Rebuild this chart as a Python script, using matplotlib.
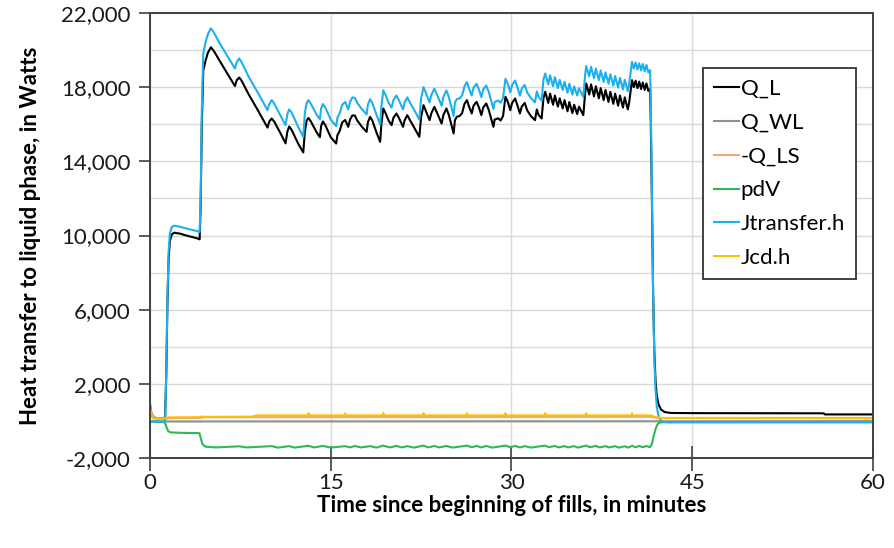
import matplotlib
matplotlib.use("Agg")
import matplotlib.pyplot as plt
from matplotlib.ticker import FuncFormatter, MultipleLocator

plt.rcParams['font.family'] = ['Lato', 'DejaVu Sans']

# time axis (minutes) shared by Q_L and Jtransfer.h
t_fill = [0.0, 0.1, 0.3, 0.6, 1.0, 1.25, 1.35, 1.45, 1.55, 1.65, 1.8, 2.0, 2.5, 3.0, 3.5, 4.0, 4.12,
          4.2, 4.3, 4.42, 4.6, 4.8, 5.05, 5.3, 5.8, 6.4, 7.05, 7.2, 7.4, 7.6, 8.2, 9.0, 9.75,
          9.9, 10.1, 10.3, 10.8, 11.25, 11.4, 11.55, 11.75, 12.3, 12.72,
          12.85, 13.0, 13.15, 13.35, 13.8, 14.1, 14.2, 14.35, 14.55, 15.0, 15.45,
          15.55, 15.75, 15.95, 16.2, 16.35, 16.45, 16.6, 16.8, 17.0, 17.2, 17.6, 17.98, 18.08, 18.26, 18.45, 18.8, 19.1,
          19.2, 19.36, 19.55, 19.8, 20.05, 20.2, 20.45, 20.65, 21.0, 21.12, 21.35, 21.55, 21.9, 22.35,
          22.5, 22.7, 22.9, 23.2, 23.35, 23.6, 23.8, 24.2, 24.35, 24.6, 24.8, 25.2,
          25.3, 25.45, 25.7, 25.9, 26.1, 26.3, 26.45, 26.7, 26.85, 27.1, 27.3, 27.5, 27.65, 27.9, 28.1, 28.5,
          28.6, 28.9, 29.1, 29.3, 29.5, 29.7, 29.9, 30.05, 30.3, 30.5, 30.7, 30.85, 31.1, 31.3, 31.6, 31.95, 32.1, 32.25, 32.5,
          32.65, 32.8, 33.05, 33.2, 33.45, 33.6, 33.85, 34.0, 34.25, 34.4, 34.65, 34.8, 35.05, 35.2, 35.45, 35.6, 35.96,
          36.1, 36.2, 36.45, 36.6, 36.85, 37.0, 37.25, 37.4, 37.65, 37.8, 38.05, 38.2, 38.45, 38.6, 38.85, 39.0, 39.25, 39.4, 39.65, 39.75, 39.85,
          40.0, 40.15, 40.3, 40.45, 40.6, 40.75, 40.9, 41.05, 41.2, 41.35, 41.5,
          41.55, 41.65, 41.75, 41.85, 41.95, 42.05, 42.2, 42.4, 42.7, 43.2, 45.0, 50.0, 55.9, 56.0, 60.0]

q_l = [900, 450, 180, 150, 150, 180, 2500, 6500, 8800, 9700, 10050, 10150, 10100, 10000, 9920, 9830, 9790,
       11500, 16000, 18900, 19400, 19850, 20150, 19950, 19400, 18750, 18060, 18380, 18520, 18350, 17600, 16700, 15820,
       16150, 16310, 16150, 15550, 14970, 15600, 15880, 15700, 14950, 14480,
       15600, 16200, 16340, 16150, 15600, 15300, 15900, 16150, 15950, 15300, 14960,
       15400, 15650, 16100, 16230, 16000, 15860, 16250, 16480, 16470, 16200, 15850, 15590, 16100, 16400, 16200, 15550, 15050,
       16000, 16850, 16600, 16200, 15950, 16350, 16580, 16350, 15860, 16200, 16490, 16250, 15850, 15320,
       16400, 17030, 16700, 16220, 16600, 16940, 16650, 16040, 16500, 16850, 16500, 15500,
       16200, 16400, 16450, 16600, 17100, 17300, 17000, 16580, 17000, 17210, 16900, 16490, 16900, 17120, 16800, 15860,
       16250, 16320, 16200, 16450, 17480, 17200, 16760, 17150, 17390, 17000, 16580, 16950, 17150, 16750, 16450, 16220, 16800, 16500, 16310,
       17400, 17750, 17150, 17650, 17050, 17550, 16950, 17400, 16850, 17300, 16700, 17200, 16600, 17050, 16550, 16950, 16490,
       17600, 18200, 17600, 18150, 17500, 18050, 17400, 17950, 17300, 17850, 17200, 17750, 17100, 17650, 17000, 17550, 16900, 17450, 16800, 17100, 17600,
       18380, 18000, 18350, 17950, 18300, 17900, 18250, 17850, 18200, 17800, 17900,
       16500, 12000, 7000, 3800, 2200, 1400, 900, 620, 480, 430, 420, 415, 410, 350, 350]

j_transfer = [-40, -40, -40, -40, -40, -30, 2600, 6800, 9200, 10100, 10450, 10530, 10470, 10380, 10300, 10220, 10190,
              12000, 16800, 19800, 20400, 20850, 21170, 20950, 20350, 19700, 19010, 19350, 19550, 19350, 18550, 17650, 16760,
              17100, 17300, 17120, 16500, 15950, 16550, 16800, 16640, 15850, 15320,
              16600, 17150, 17300, 17100, 16550, 16260, 16850, 17090, 16900, 16250, 15900,
              16350, 16600, 17050, 17200, 16950, 16800, 17200, 17450, 17420, 17150, 16800, 16530, 17050, 17350, 17150, 16500, 16000,
              16950, 17830, 17570, 17150, 16900, 17300, 17550, 17300, 16800, 17150, 17450, 17200, 16800, 16250,
              17400, 18000, 17680, 17180, 17580, 17920, 17620, 17000, 17480, 17820, 17470, 16450,
              17150, 17350, 17400, 17550, 18050, 18270, 17970, 17550, 17970, 18180, 17870, 17460, 17870, 18090, 17770, 16820,
              17200, 17280, 17160, 17420, 18450, 18170, 17720, 18120, 18360, 17970, 17540, 17920, 18120, 17720, 17420, 17180, 17770, 17470, 17270,
              18400, 18740, 18150, 18640, 18050, 18540, 17950, 18390, 17850, 18290, 17700, 18190, 17600, 18040, 17550, 17940, 17480,
              18600, 19140, 18580, 19100, 18480, 19000, 18380, 18900, 18280, 18800, 18180, 18700, 18080, 18600, 17980, 18500, 17880, 18400, 17780, 18110, 18600,
              19370, 19000, 19330, 18950, 19290, 18900, 19250, 18850, 19200, 18800, 18920,
              17500, 12500, 7000, 3500, 1700, 800, 250, 0, -60, -70, -70, -70, -70, -70, -70]

# wall-to-liquid heat
qwl_t = [0.0, 1.3, 42.0, 60.0]
qwl_v = [-20, -30, -20, -10]

# liquid-to-solid heat (sign flipped)
qls_t = [0.0, 0.3, 1.3, 1.6, 4.2, 4.5, 41.5, 42.0, 42.5, 60.0]
qls_v = [300, 120, 110, 150, 160, 200, 220, 180, 150, 140]

# pdV work
pdv_t = [0.0, 1.2, 1.35, 1.5, 1.7, 2.5, 4.1, 4.2, 4.35, 4.6, 5.5, 7.4, 8.0, 10.1, 10.6, 11.55, 12.0,
         13.15, 13.6, 14.35, 15.0, 16.2, 16.6, 17.0, 17.5, 18.26, 18.8, 19.36, 19.9, 20.45, 20.9,
         21.35, 21.9, 22.7, 23.1, 23.6, 24.0, 24.6, 25.1, 26.3, 26.7, 27.1, 27.5, 27.9, 28.4,
         29.5, 29.9, 30.3, 30.7, 31.1, 31.6, 32.8, 33.1, 33.6, 33.9, 34.4, 34.7, 35.2, 35.5,
         36.2, 36.5, 37.0, 37.3, 37.8, 38.1, 38.6, 38.9, 39.4, 39.7, 40.0, 40.3, 40.6, 40.9,
         41.2, 41.5, 41.65, 41.8, 42.0, 42.15, 42.35, 42.7, 60.0]
pdv_v = [-30, -60, -300, -540, -620, -640, -660, -900, -1250, -1390, -1430, -1370, -1430, -1360, -1440, -1360, -1440,
         -1340, -1430, -1350, -1440, -1360, -1430, -1350, -1430, -1360, -1440, -1330, -1430, -1350, -1430,
         -1360, -1440, -1330, -1430, -1350, -1430, -1350, -1440, -1330, -1420, -1350, -1430, -1350, -1440,
         -1330, -1420, -1350, -1430, -1360, -1440, -1330, -1420, -1350, -1430, -1360, -1430, -1360, -1440,
         -1330, -1420, -1350, -1430, -1360, -1430, -1360, -1440, -1370, -1440, -1340, -1420, -1350, -1420,
         -1350, -1420, -1250, -800, -350, -150, -80, -70, -70]

# enthalpy carried by condensation, short spikes at each fill
jcd_t = [0.0, 0.08, 0.3, 1.2, 1.4, 1.6, 4.1, 4.3, 4.6, 8.4, 9.0,
         13.1, 13.15, 13.2, 16.15, 16.2, 16.25, 19.31, 19.36, 19.41, 22.65, 22.7, 22.75,
         26.25, 26.3, 26.35, 29.45, 29.5, 29.55, 32.75, 32.8, 32.85, 36.15, 36.2, 36.25,
         39.95, 40.0, 40.05, 41.5, 41.7, 42.0, 42.4, 60.0]
jcd_v = [950, 500, 150, 140, 180, 190, 200, 240, 220, 230, 300,
         300, 420, 300, 300, 410, 300, 300, 430, 300, 300, 420, 300,
         300, 430, 300, 300, 420, 300, 300, 430, 300, 300, 420, 300,
         300, 420, 300, 300, 260, 200, 160, 160]

fig = plt.figure(figsize=(8.95, 5.48), dpi=100)
ax = fig.add_axes([150 / 895, 90 / 548, 723 / 895, 445 / 548])

ax.plot(t_fill, q_l, color='black', lw=1.5, label='Q_L')
ax.plot(qwl_t, qwl_v, color='#909090', lw=1.5, label='Q_WL')
ax.plot(qls_t, qls_v, color='#F4A57A', lw=1.5, label='-Q_LS')
ax.plot(pdv_t, pdv_v, color='#2EB857', lw=1.5, label='pdV')
ax.plot(t_fill, j_transfer, color='#1CB0F0', lw=1.5, label='Jtransfer.h')
ax.plot(jcd_t, jcd_v, color='#FFC000', lw=1.5, label='Jcd.h')

ax.set_xlim(0, 60)
ax.set_ylim(-2000, 22000)
ax.set_xticks([0, 15, 30, 45, 60])
ax.set_yticks(range(-2000, 22001, 4000))
ax.yaxis.set_minor_locator(MultipleLocator(2000))
ax.yaxis.set_major_formatter(FuncFormatter(lambda v, p: f'{int(v):,}'))

ax.grid(True, which='both', axis='y', color='#D9D9D9', lw=1)
ax.grid(True, which='major', axis='x', color='#D9D9D9', lw=1)
ax.set_axisbelow(True)

for s in ax.spines.values():
    s.set_color('#404040')
    s.set_linewidth(1.4)

ax.tick_params(axis='y', which='major', direction='out', length=8, width=1.2,
               color='#404040', labelsize=16, labelcolor='#1a1a1a', pad=6)
ax.tick_params(axis='y', which='minor', length=0)
ax.tick_params(axis='x', direction='inout', length=18, width=1.2,
               color='#404040', labelsize=16, labelcolor='#1a1a1a', pad=2)

ax.set_xlabel('Time since beginning of fills, in minutes', fontsize=16, fontweight='bold', labelpad=1)
ax.set_ylabel('Heat transfer to liquid phase, in Watts', fontsize=16, fontweight='bold', labelpad=14)

leg = ax.legend(loc='upper left', bbox_to_anchor=(703 / 895, 1 - 68 / 548), bbox_transform=fig.transFigure,
                borderaxespad=0, fontsize=16, handlelength=1.1, handletextpad=0.1, labelspacing=0.62,
                fancybox=False, framealpha=1, edgecolor='#404040', borderpad=0.5)
leg.get_frame().set_linewidth(1.4)

fig.savefig('out.png', dpi=100)
